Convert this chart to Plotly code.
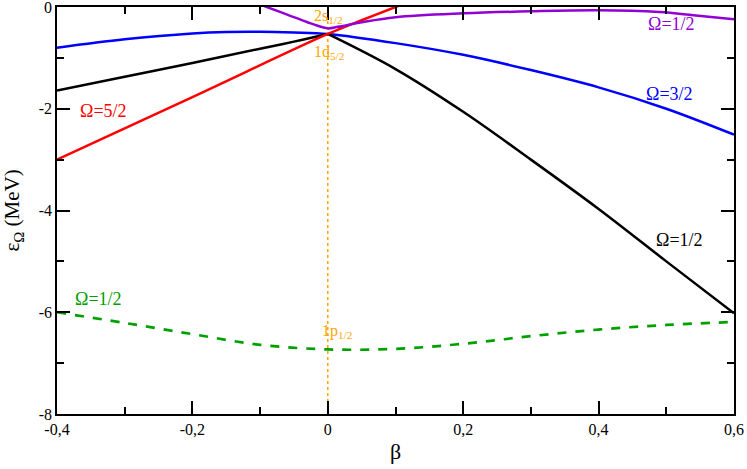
import plotly.graph_objects as go

# ---- data ----
black_left_beta = [-0.4, -0.3, -0.2, -0.1, -0.05, 0.0]
black_left_eps = [-1.64, -1.37, -1.10, -0.82, -0.68, -0.53]
black_right_beta = [0.0, 0.1, 0.2, 0.3, 0.4, 0.5, 0.6]
black_right_eps = [-0.53, -1.22, -2.06, -3.0, -3.97, -5.0, -6.02]

blue_beta = [-0.4, -0.3, -0.2, -0.15, -0.1, -0.05, 0.0, 0.1, 0.2, 0.3, 0.4, 0.5, 0.6]
blue_eps = [-0.80, -0.635, -0.52, -0.49, -0.485, -0.50, -0.53, -0.71, -0.94, -1.24, -1.58, -2.0, -2.51]

red_beta = [-0.4, -0.2, 0.0, 0.05, 0.1, 0.12]
red_eps = [-3.0, -1.77, -0.53, -0.26, 0.0, 0.1]

purple_beta = [-0.1, -0.09, -0.06, -0.03, -0.015, 0.0, 0.015, 0.05, 0.1, 0.2, 0.3, 0.4, 0.49, 0.54, 0.6]
purple_eps = [0.05, 0.0, -0.15, -0.30, -0.37, -0.42, -0.39, -0.30, -0.20, -0.125, -0.085, -0.065, -0.10, -0.16, -0.24]

green_beta = [-0.4, -0.3, -0.2, -0.1, 0.0, 0.1, 0.2, 0.3, 0.4, 0.5, 0.6]
green_eps = [-6.00, -6.21, -6.43, -6.64, -6.73, -6.72, -6.62, -6.47, -6.34, -6.25, -6.19]

ref_beta = [0.0, 0.0]
ref_eps = [-8.0, 0.0]

x_tickvals = [-0.4, -0.2, 0.0, 0.2, 0.4, 0.6]
x_ticktext = ["-0,4", "-0,2", "0", "0,2", "0,4", "0,6"]
y_tickvals = [-8, -6, -4, -2, 0]
y_ticktext = ["-8", "-6", "-4", "-2", "0"]

FONT = "Liberation Serif, Times New Roman, Times, serif"
ORANGE = "#FFA500"

fig = go.Figure()
fig.add_trace(go.Scatter(x=ref_beta, y=ref_eps, mode="lines",
                         line=dict(color=ORANGE, width=1.5, dash="dot")))
fig.add_trace(go.Scatter(x=green_beta, y=green_eps, mode="lines",
                         line=dict(color="#00A000", width=2.7, dash="dash", shape="spline")))
fig.add_trace(go.Scatter(x=blue_beta, y=blue_eps, mode="lines",
                         line=dict(color="#0000FF", width=2.5, shape="spline")))
fig.add_trace(go.Scatter(x=black_left_beta, y=black_left_eps, mode="lines",
                         line=dict(color="black", width=2.5, shape="spline")))
fig.add_trace(go.Scatter(x=black_right_beta, y=black_right_eps, mode="lines",
                         line=dict(color="black", width=2.5, shape="spline")))
fig.add_trace(go.Scatter(x=red_beta, y=red_eps, mode="lines",
                         line=dict(color="#FF0000", width=2.5, shape="spline")))
fig.add_trace(go.Scatter(x=purple_beta, y=purple_eps, mode="lines",
                         line=dict(color="#9400D3", width=2.5, shape="spline")))

axis_common = dict(
    showline=True, linecolor="black", linewidth=1.5, mirror="ticks",
    ticks="inside", ticklen=13, tickwidth=1.5, tickcolor="black",
    showgrid=False, zeroline=False, automargin=False, ticklabeloverflow="allow",
    tickfont=dict(family=FONT, size=16, color="black"),
)

fig.update_xaxes(range=[-0.4, 0.6], tickmode="array", tickvals=x_tickvals, ticktext=x_ticktext,
                 minor=dict(tickmode="linear", tick0=0, dtick=0.1, ticks="inside", ticklen=7,
                            tickwidth=1.5, tickcolor="black", showgrid=False),
                 **axis_common)
fig.update_yaxes(range=[-8, 0], tickmode="array", tickvals=y_tickvals, ticktext=y_ticktext,
                 minor=dict(tickmode="linear", tick0=0, dtick=1, ticks="inside", ticklen=7,
                            tickwidth=1.5, tickcolor="black", showgrid=False),
                 **axis_common)

def label(x, y, text, color, size=18, xref="x", yref="y", angle=0):
    fig.add_annotation(x=x, y=y, xref=xref, yref=yref, text=text, showarrow=False,
                       font=dict(family=FONT, size=size, color=color),
                       xanchor="center", yanchor="middle", textangle=angle)

label(-0.332, -2.05, "Ω=5/2", "#FF0000")
label(0.508, -0.33, "Ω=1/2", "#9400D3")
label(0.504, -1.71, "Ω=3/2", "#0000FF")
label(0.519, -4.58, "Ω=1/2", "black")
label(-0.338, -5.74, "Ω=1/2", "#00A000")
label(0.001, -0.19, "2s<sub>1/2</sub>", ORANGE, size=16)
label(0.002, -0.89, "1d<sub>5/2</sub>", ORANGE, size=16)
label(0.013, -6.37, "1p<sub>1/2</sub>", ORANGE, size=16)

label(-0.065, 0.5, "ε<sub>Ω</sub> (MeV)", "black", size=21, xref="paper", yref="paper", angle=-90)
label(0.5, -0.093, "β", "black", size=22, xref="paper", yref="paper")

fig.update_layout(
    width=747, height=469,
    margin=dict(l=57, r=13, t=7, b=55, autoexpand=False),
    paper_bgcolor="white", plot_bgcolor="white",
    showlegend=False,
    font=dict(family=FONT, color="black"),
)

# remove the default 8px page margin so the figure sits at the window's corner
fig.write_html("out.html",
               config={"displayModeBar": False},
               post_script="document.body.style.margin='0';document.body.style.overflow='hidden';")
